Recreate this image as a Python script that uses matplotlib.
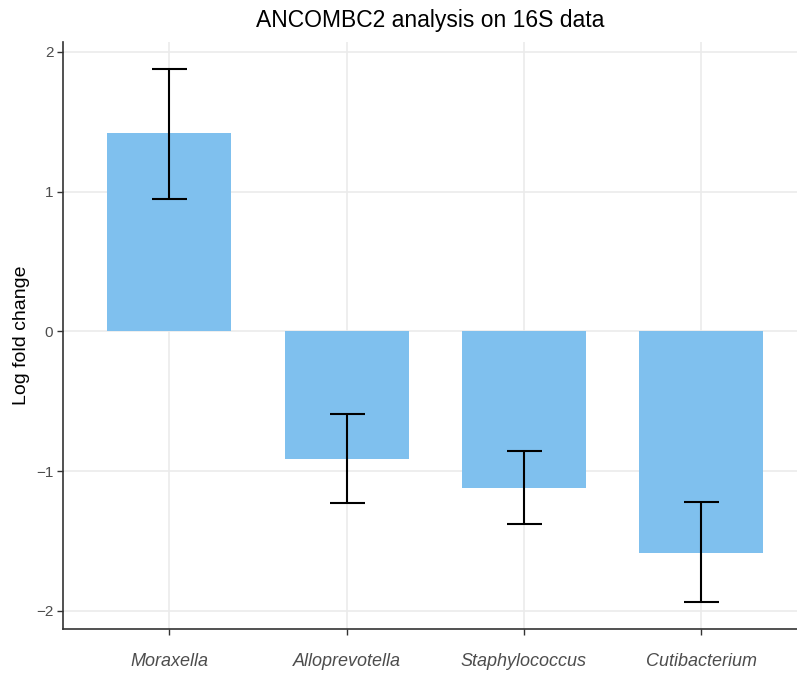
import matplotlib
matplotlib.use("Agg")
import matplotlib.pyplot as plt
import numpy as np

# Differential abundance results per genus
genera = ["Moraxella", "Alloprevotella", "Staphylococcus", "Cutibacterium"]
lfc = [1.417, -0.916, -1.121, -1.584]
ci_low = [0.945, -1.226, -1.379, -1.937]
ci_high = [1.875, -0.592, -0.854, -1.221]
yticks = [-2, -1, 0, 1, 2]

plt.rcParams["font.family"] = ["Liberation Sans", "DejaVu Sans"]

fig = plt.figure(figsize=(7.97, 6.75), dpi=100)
ax = fig.add_axes([63 / 797, 46 / 675, 1 - 63 / 797, (629 - 42) / 675])

x = np.arange(len(genera))
ax.bar(x, lfc, width=0.7, color="#7FC0EE", zorder=2)
lfc_arr = np.array(lfc)
yerr = np.vstack([lfc_arr - np.array(ci_low), np.array(ci_high) - lfc_arr])
ax.errorbar(x, lfc, yerr=yerr, fmt="none", ecolor="black", elinewidth=1.5,
            capsize=12.6, capthick=1.5, zorder=3)

ax.set_xlim(-0.6, 3.54)
ax.set_ylim(-2.13, 2.07)
ax.set_xticks(x)
ax.set_xticklabels(genera, fontstyle="italic", fontsize=13, color="#4D4D4D")
ax.set_yticks(yticks)
ax.set_yticklabels(["\u22122", "\u22121", "0", "1", "2"], fontsize=11, color="#4D4D4D")
ax.tick_params(axis="x", length=4, width=1, color="#333333", pad=13)
ax.tick_params(axis="y", length=4, width=1, color="#333333", pad=3)

ax.grid(True, color="#EBEBEB", linewidth=1.2, zorder=0)
ax.set_axisbelow(True)
for side in ["top", "right"]:
    ax.spines[side].set_visible(False)
for side in ["left", "bottom"]:
    ax.spines[side].set_color("#333333")
    ax.spines[side].set_linewidth(1.2)

ax.set_ylabel("Log fold change", fontsize=14, labelpad=4.5)
fig.text((63 + 797) / 2 / 797, 1 - 20 / 675, "ANCOMBC2 analysis on 16S data",
         ha="center", va="center", fontsize=16.5)

fig.savefig("out.png", dpi=100)
